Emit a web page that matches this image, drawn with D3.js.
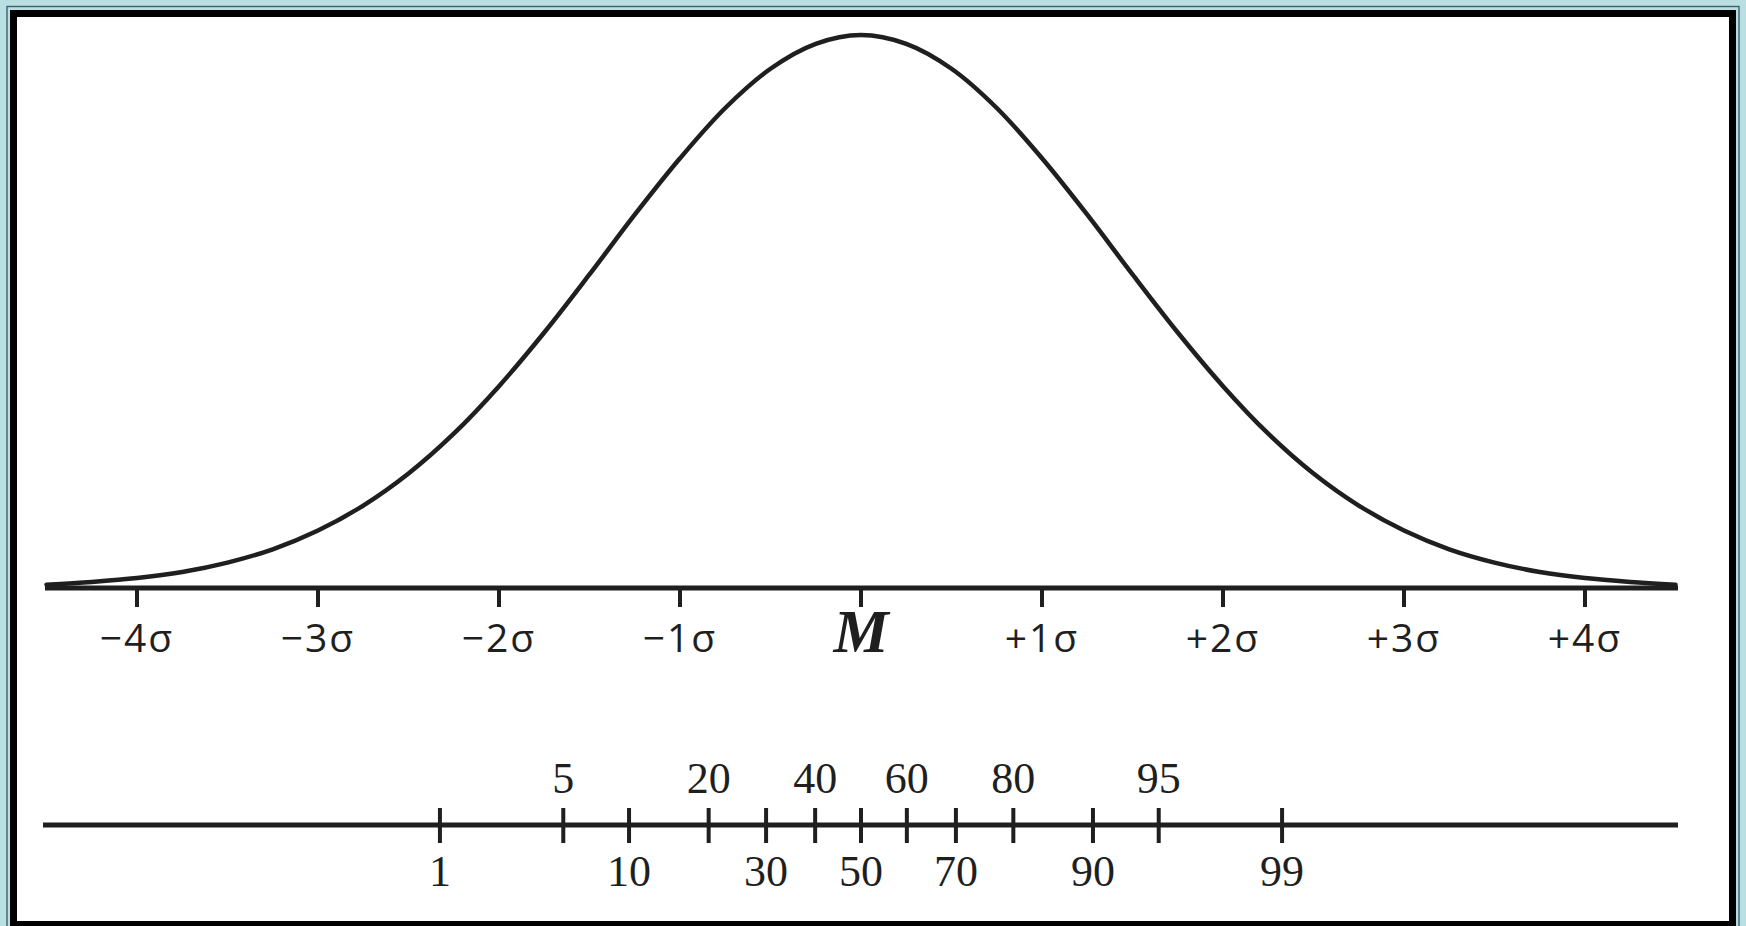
<!DOCTYPE html>
<html>
<head>
<meta charset="utf-8">
<script src="https://cdn.jsdelivr.net/npm/d3@7"></script>
<style>
	html, body { margin: 0; padding: 0; background: #b9dfe2; }
	svg { display: block; }
</style>
</head>
<body>
<svg id="chart"></svg>
<script>
// sigma axis: tick positions (in sigma units) and their labels
const SIGMA_TICKS = [-4, -3, -2, -1, 0, 1, 2, 3, 4];
const SIGMA_LABELS = ['−4σ', '−3σ', '−2σ', '−1σ', 'M', '+1σ', '+2σ', '+3σ', '+4σ'];

// percentile axis
const PERCENTILES = [1, 5, 10, 20, 30, 40, 50, 60, 70, 80, 90, 95, 99];
const PERCENTILES_ABOVE = [5, 20, 40, 60, 80, 95];

// curve: x in sigma-axis units, height relative to the peak
const CURVE_X = [-4.5, -4.25, -4, -3.75, -3.5, -3.25, -3, -2.75, -2.5, -2.25, -2, -1.75, -1.5, -1.25, -1, -0.75, -0.5, -0.25,
	0, 0.25, 0.5, 0.75, 1, 1.25, 1.5, 1.75, 2, 2.25, 2.5, 2.75, 3, 3.25, 3.5, 3.75, 4, 4.25, 4.5];
const CURVE_H = [0.006, 0.011, 0.018, 0.029, 0.046, 0.07, 0.104, 0.149, 0.207, 0.279, 0.365, 0.462, 0.567, 0.675, 0.777, 0.868, 0.939, 0.984,
	1, 0.984, 0.939, 0.868, 0.777, 0.675, 0.567, 0.462, 0.365, 0.279, 0.207, 0.149, 0.104, 0.07, 0.046, 0.029, 0.018, 0.011, 0.006];

const W = 1746;
const H = 926;
const INK = '#1f1f1f';

const $svg = d3.select('#chart').attr('width', W).attr('height', H);

const scale = {
	x: d3.scaleLinear().domain([-4, 4]).range([137, 1585]),
	y: d3.scaleLinear().domain([0, 1]).range([588, 35])
};
const sigmaAxisY = 588;
const pctAxisY = 825;
const lineExtent = [45, 1678];

// inverse normal cdf (Acklam), used as the percentile -> sigma transform
function probit(p) {
	const a = [-39.69683028665376, 220.9460984245205, -275.9285104469687, 138.357751867269, -30.66479806614716, 2.506628277459239];
	const b = [-54.47609879822406, 161.5858368580409, -155.6989798598866, 66.80131188771972, -13.28068155288572];
	const c = [-0.007784894002430293, -0.3223964580411365, -2.400758277161838, -2.549732539343734, 4.374664141464968, 2.938163982698783];
	const d = [0.007784695709041462, 0.3224671290700398, 2.445134137142996, 3.754408661907416];
	const pl = 0.02425;
	let q, r;
	if (p < pl) {
		q = Math.sqrt(-2 * Math.log(p));
		return (((((c[0] * q + c[1]) * q + c[2]) * q + c[3]) * q + c[4]) * q + c[5]) /
			((((d[0] * q + d[1]) * q + d[2]) * q + d[3]) * q + 1);
	}
	if (p > 1 - pl) {
		q = Math.sqrt(-2 * Math.log(1 - p));
		return -(((((c[0] * q + c[1]) * q + c[2]) * q + c[3]) * q + c[4]) * q + c[5]) /
			((((d[0] * q + d[1]) * q + d[2]) * q + d[3]) * q + 1);
	}
	q = p - 0.5;
	r = q * q;
	return (((((a[0] * r + a[1]) * r + a[2]) * r + a[3]) * r + a[4]) * r + a[5]) * q /
		(((((b[0] * r + b[1]) * r + b[2]) * r + b[3]) * r + b[4]) * r + 1);
}

function drawFrame() {
	$svg.append('rect').attr('width', W).attr('height', H).attr('fill', '#b9dfe2');
	$svg.append('rect')
		.attr('x', 7).attr('y', 6.5).attr('width', W - 14).attr('height', H)
		.attr('fill', 'none').attr('stroke', '#3d6268').attr('stroke-width', 1.4);
	$svg.append('rect')
		.attr('x', 10).attr('y', 10).attr('width', W - 20).attr('height', H)
		.attr('fill', '#000');
	$svg.append('rect')
		.attr('x', 17).attr('y', 17).attr('width', W - 34).attr('height', 921 - 17)
		.attr('fill', '#fff');
}

function drawCurve() {
	const pts = CURVE_X.map((x, i) => [x, CURVE_H[i]]);
	const line = d3.line()
		.x(d => scale.x(d[0]))
		.y(d => scale.y(d[1]))
		.curve(d3.curveCatmullRom.alpha(0.5));
	$svg.append('path')
		.datum(pts)
		.attr('d', line)
		.attr('fill', 'none')
		.attr('stroke', INK)
		.attr('stroke-width', 4.5)
		.attr('stroke-linecap', 'round');
}

function drawSigmaAxis() {
	const $g = $svg.append('g').attr('class', 'axis--sigma');
	$g.append('line')
		.attr('x1', lineExtent[0]).attr('x2', lineExtent[1])
		.attr('y1', sigmaAxisY).attr('y2', sigmaAxisY)
		.attr('stroke', INK).attr('stroke-width', 5);

	$g.selectAll('line.tick')
		.data(SIGMA_TICKS)
		.enter()
		.append('line')
		.attr('class', 'tick')
		.attr('x1', d => scale.x(d)).attr('x2', d => scale.x(d))
		.attr('y1', sigmaAxisY).attr('y2', sigmaAxisY + 19)
		.attr('stroke', INK).attr('stroke-width', 4);

	const isM = (d, i) => SIGMA_LABELS[i] === 'M';
	$g.selectAll('text')
		.data(SIGMA_TICKS)
		.enter()
		.append('text')
		.attr('x', d => scale.x(d))
		.attr('y', 652)
		.attr('text-anchor', 'middle')
		.attr('fill', INK)
		.style('font-family', (d, i) => isM(d, i) ? '"Liberation Serif", serif' : '"Open Sans", sans-serif')
		.style('font-size', (d, i) => isM(d, i) ? '62px' : '39px')
		.style('font-weight', (d, i) => isM(d, i) ? 'bold' : 'normal')
		.style('font-style', (d, i) => isM(d, i) ? 'italic' : 'normal')
		.style('letter-spacing', (d, i) => isM(d, i) ? '0px' : '2px')
		.text((d, i) => SIGMA_LABELS[i]);
}

function drawPercentileAxis() {
	const $g = $svg.append('g').attr('class', 'axis--pct');
	const px = p => scale.x(probit(p / 100));

	$g.append('line')
		.attr('x1', lineExtent[0] - 2).attr('x2', lineExtent[1])
		.attr('y1', pctAxisY).attr('y2', pctAxisY)
		.attr('stroke', INK).attr('stroke-width', 5);

	$g.selectAll('line.tick')
		.data(PERCENTILES)
		.enter()
		.append('line')
		.attr('class', 'tick')
		.attr('x1', px).attr('x2', px)
		.attr('y1', pctAxisY - 17).attr('y2', pctAxisY + 18)
		.attr('stroke', INK).attr('stroke-width', 4);

	$g.selectAll('text')
		.data(PERCENTILES)
		.enter()
		.append('text')
		.attr('x', px)
		.attr('y', d => PERCENTILES_ABOVE.includes(d) ? 793 : 886)
		.attr('text-anchor', 'middle')
		.attr('fill', INK)
		.style('font-family', '"Liberation Serif", serif')
		.style('font-size', '44px')
		.text(d => d);
}

drawFrame();
drawSigmaAxis();
drawPercentileAxis();
drawCurve();
</script>
</body>
</html>
